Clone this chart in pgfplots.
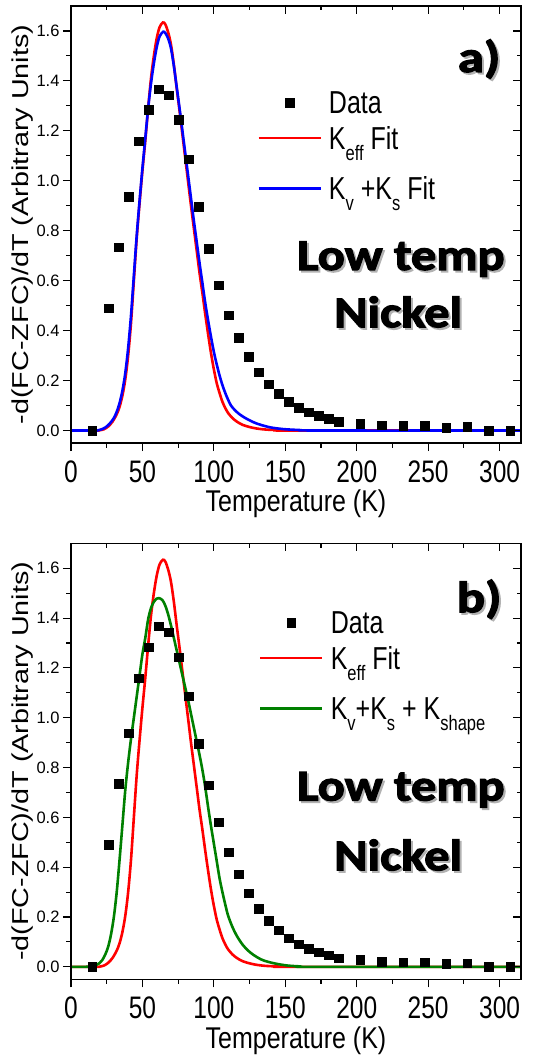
\documentclass[border=0pt]{standalone}
\usepackage{fontspec}
\setmainfont{Liberation Sans}
\newfontfamily\heavy[FakeBold=2.5]{Carlito}
\usepackage{pgfplots}
\usepackage{pgfplotstable}
\pgfplotsset{compat=1.18}
\definecolor{cred}{RGB}{255,0,0}
\definecolor{cblue}{RGB}{0,0,255}
\definecolor{cgreen}{RGB}{0,128,0}
\newcommand\vs[1]{\scalebox{1}[1.27]{#1}}
\newcommand\sub[1]{\raisebox{-8.5pt}[0pt][8.5pt]{\fontsize{16.5}{16.5}\selectfont #1}}
\newcommand\tall{\rule{0pt}{26.5pt}}
\newcommand\taller{\rule[-11.65pt]{0pt}{41.3pt}}
\tikzset{bigtxt/.style={font=\heavy\bfseries\fontsize{44}{44}\selectfont, anchor=base}}
\newcommand\wide[1]{\scalebox{1.15}[1]{#1}}
\newcommand\lab[1]{\scalebox{1.2}[1]{#1}}

\pgfplotstableread{
T y
15 0.0
26.5 0.49
33.5 0.735
40.5 0.937
47.5 1.159
54.5 1.284
61.5 1.368
68.5 1.343
75.5 1.244
82.5 1.087
89.5 0.896
96.5 0.728
103.5 0.581
110.5 0.461
117.5 0.371
124.5 0.296
131.5 0.233
138.5 0.185
145.5 0.147
152.5 0.116
159.5 0.092
166.5 0.073
173.5 0.059
180.5 0.047
187.5 0.035
202.5 0.028
217.5 0.021
232.5 0.019
247.5 0.019
262.5 0.012
277.5 0.015
292.5 0.0
307.5 0.0
}\datatab

\pgfplotstableread{
T y
0 0
18 0
20 0.001
23 0.005
26 0.016
29 0.035
32 0.065
34 0.095
36 0.14
38 0.205
40 0.3
42 0.43
44 0.6
46 0.77
48 0.91
50 1.04
52 1.16
54 1.29
56 1.41
58 1.5
60 1.57
62 1.615
64.3 1.634
66 1.627
68 1.595
70 1.545
72 1.465
74 1.37
76 1.28
78 1.185
80 1.09
82 0.995
84 0.9
86 0.81
88 0.72
90 0.63
92 0.55
94 0.465
96 0.385
98 0.31
100 0.245
102 0.19
104 0.15
106 0.115
108 0.09
110 0.07
113 0.05
116 0.036
120 0.023
125 0.014
130 0.008
136 0.004
145 0.0015
155 0
315 0
}\redtab

\pgfplotstableread{
T y
0 0
17 0
19 0.001
21 0.004
24 0.012
27 0.027
30 0.05
32 0.075
34 0.11
36 0.16
38 0.23
40 0.33
42 0.46
44 0.62
46 0.78
48 0.92
50 1.05
52 1.17
54 1.29
56 1.39
58 1.47
60 1.535
62 1.578
64.5 1.597
66 1.592
68 1.57
70 1.53
72 1.46
74 1.375
76 1.29
78 1.2
80 1.11
82 1.02
84 0.93
86 0.84
88 0.755
90 0.67
92 0.59
94 0.51
96 0.44
98 0.375
100 0.315
102 0.265
104 0.22
106 0.182
108 0.15
110 0.123
112 0.1
115 0.08
118 0.065
122 0.05
126 0.038
130 0.028
135 0.019
140 0.012
145 0.008
150 0.005
160 0.002
175 0
315 0
}\bluetab

\pgfplotstableread{
T y
0 0
10 0
14 0.002
17 0.006
20 0.015
22 0.028
24 0.05
26 0.08
28 0.13
30 0.2
32 0.3
34 0.43
36 0.57
38 0.71
40 0.82
42 0.915
44 1.0
46 1.085
48 1.17
50 1.255
52 1.32
54 1.395
56 1.44
58 1.465
60 1.478
61.6 1.48
64 1.472
66 1.45
68 1.415
70 1.37
72 1.32
74 1.27
76 1.22
78 1.17
80 1.12
82 1.07
84 1.015
86 0.96
88 0.905
90 0.85
92 0.79
94 0.72
96 0.64
98 0.565
100 0.495
102 0.425
104 0.355
106 0.3
108 0.25
110 0.205
113 0.16
116 0.125
120 0.09
124 0.065
128 0.047
133 0.03
138 0.02
145 0.011
152 0.005
160 0.002
170 0
315 0
}\greentab

\pgfplotsset{
  base/.style={
    scale only axis, width=450pt,
    xmin=0, xmax=315, ymin=-0.05, ymax=1.7,
    xtick={0,50,100,150,200,250,300},
    ytick={0,0.2,0.4,0.6,0.8,1.0,1.2,1.4,1.6},
    minor x tick num=1, minor y tick num=1,
    major tick length=8pt, minor tick length=4.5pt,
    every tick/.style={black, line width=1.1pt},
    axis line style={black, line width=1.2pt},
  },
  panel/.style={base,
    tick align=outside, xtick pos=left, ytick pos=left,
    /pgf/number format/assume math mode=true,
    xticklabel={\scalebox{1}[1.27]{\pgfmathprintnumber{\tick}}},
    xticklabel style={font=\fontsize{24.5}{24.5}\selectfont, yshift=-6pt},
    yticklabel style={font=\fontsize{16.5}{16.5}\selectfont,
      /pgf/number format/.cd, fixed, fixed zerofill, precision=1, /tikz/.cd},
    xlabel={\scalebox{1}[1.2]{Temperature (K)}},
    ylabel={\scalebox{1.25}[1]{-d(FC-ZFC)/dT (Arbitrary Units)}},
    xlabel style={font=\fontsize{25}{25}\selectfont, at={(axis description cs:0.5,-0.14)}, anchor=center},
    ylabel style={font=\fontsize{23}{23}\selectfont, at={(axis description cs:-0.108,0.5)}, anchor=center},
    legend cell align=left,
    legend image code/.code={\draw[mark repeat=2,mark phase=2,#1] plot coordinates {(0pt,0pt) (31pt,0pt) (62pt,0pt)};},
    legend style={draw=none, fill=none, font=\fontsize{25}{25}\selectfont,
      anchor=north west, row sep=-2pt, nodes={text depth=}},
  },
  mirror/.style={base, tick align=inside, xtick pos=right, ytick pos=right,
    xticklabels={}, yticklabels={}},
}

\begin{document}
\begin{tikzpicture}
\useasboundingbox (0pt,0pt) rectangle (535pt,-1057pt);
% ---------- panel a ----------
\begin{axis}[panel, height=437pt, at={(71pt,-443pt)}, anchor=south west,
  legend style={at={(axis description cs:0.407,0.814)}}]
\addplot[only marks, mark=square*, mark size=4.2pt, black] table[x=T,y=y]{\datatab};
\addlegendentry{\hspace{5pt}\vs{Data}}
\addplot[cred, line width=2.6pt, smooth] table[x=T,y=y]{\redtab};
\addlegendentry{\hspace{5pt}\vs{\tall K\sub{eff} Fit}}
\addplot[cblue, line width=2.6pt, smooth] table[x=T,y=y]{\bluetab};
\addlegendentry{\hspace{5pt}\vs{\taller K\sub{v} +K\sub{s} Fit}}
\node[bigtxt, text=black!30, xshift=2pt, yshift=-2pt] at (rel axis cs:0.907,0.849) {\lab{a)}};
\node[bigtxt] at (rel axis cs:0.907,0.849) {\lab{a)}};
\node[bigtxt, text=black!30, xshift=2pt, yshift=-2pt] at (rel axis cs:0.733,0.396) {\wide{Low temp}};
\node[bigtxt] at (rel axis cs:0.733,0.396) {\wide{Low temp}};
\node[bigtxt, text=black!30, xshift=2pt, yshift=-2pt] at (rel axis cs:0.727,0.265) {\wide{Nickel}};
\node[bigtxt] at (rel axis cs:0.727,0.265) {\wide{Nickel}};
\end{axis}
\begin{axis}[mirror, height=437pt, at={(71pt,-443pt)}, anchor=south west]
\addplot[draw=none] coordinates {(0,0)};
\end{axis}
% ---------- panel b ----------
\begin{axis}[panel, height=436pt, at={(71pt,-979.3pt)}, anchor=south west,
  legend style={at={(axis description cs:0.411,0.853)}}]
\addplot[only marks, mark=square*, mark size=4.2pt, black] table[x=T,y=y]{\datatab};
\addlegendentry{\hspace{5pt}\vs{Data}}
\addplot[cred, line width=2.6pt, smooth] table[x=T,y=y]{\redtab};
\addlegendentry{\hspace{5pt}\vs{\tall K\sub{eff} Fit}}
\addplot[cgreen, line width=2.6pt, smooth] table[x=T,y=y]{\greentab};
\addlegendentry{\hspace{5pt}\vs{\taller K\sub{v}+K\sub{s} + K\sub{shape}}}
\node[bigtxt, text=black!30, xshift=2pt, yshift=-2pt] at (rel axis cs:0.907,0.842) {\lab{b)}};
\node[bigtxt] at (rel axis cs:0.907,0.842) {\lab{b)}};
\node[bigtxt, text=black!30, xshift=2pt, yshift=-2pt] at (rel axis cs:0.733,0.41) {\wide{Low temp}};
\node[bigtxt] at (rel axis cs:0.733,0.41) {\wide{Low temp}};
\node[bigtxt, text=black!30, xshift=2pt, yshift=-2pt] at (rel axis cs:0.727,0.25) {\wide{Nickel}};
\node[bigtxt] at (rel axis cs:0.727,0.25) {\wide{Nickel}};
\end{axis}
\begin{axis}[mirror, height=436pt, at={(71pt,-979.3pt)}, anchor=south west]
\addplot[draw=none] coordinates {(0,0)};
\end{axis}
\end{tikzpicture}
\end{document}
